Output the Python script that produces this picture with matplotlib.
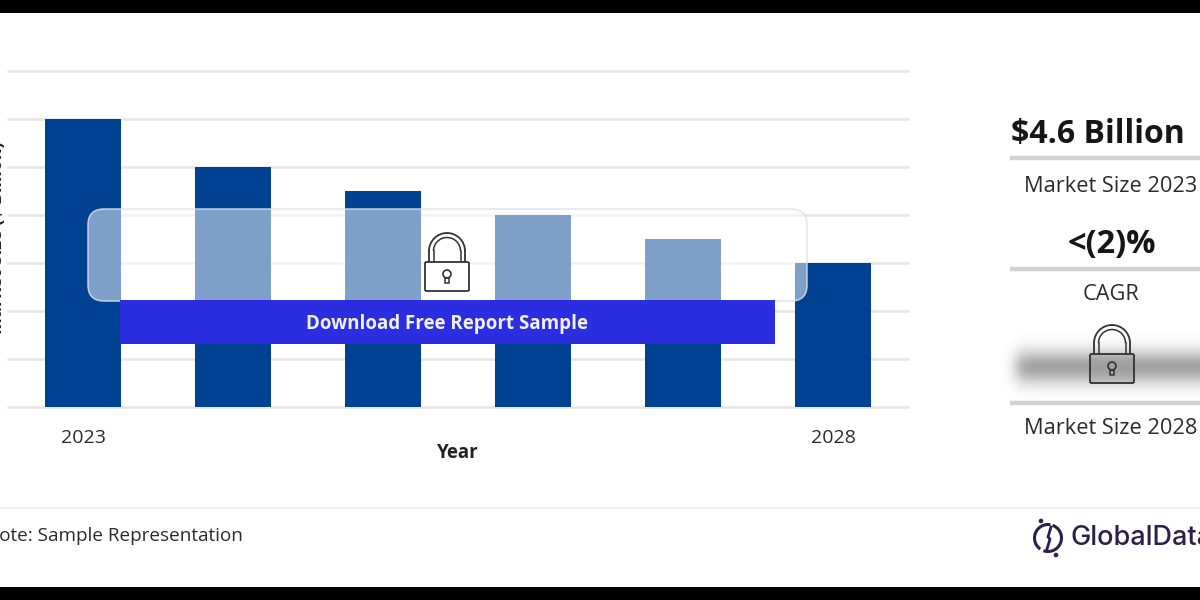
import numpy as np
import matplotlib
matplotlib.use('Agg')
import matplotlib.pyplot as plt
from matplotlib.patches import Rectangle, FancyBboxPatch, Arc, Circle

plt.rcParams['font.family'] = ['Open Sans', 'DejaVu Sans']

# Chart data
years = ['2023', '', '', '', '', '2028']
market_size = [6, 5, 4.5, 4, 3.5, 3]
y_ticks = [0, 1, 2, 3, 4, 5, 6, 7]

bar_color = '#004291'
grid_color = '#e6e6e6'
text_color = '#2b2b2b'

fig = plt.figure(figsize=(12, 6), dpi=100, facecolor='white')

# Main chart, axes run from pixel 8 to 908 and from pixel 71 to 407
ax = fig.add_axes([8 / 1200, (600 - 407) / 600, 900 / 1200, 336 / 600], zorder=1)
x = np.arange(len(years))
ax.bar(x, market_size, width=0.507, color=bar_color, zorder=3)
ax.set_xlim(-0.5, 5.5)
ax.set_ylim(0, 7)
ax.set_yticks(y_ticks)
ax.set_xticks(x)
ax.set_xticklabels(years, fontsize=14, color=text_color)
ax.tick_params(axis='both', length=0, labelleft=False, pad=15.5)
ax.grid(axis='y', color=grid_color, linewidth=1.8, zorder=0, clip_on=False)
ax.set_axisbelow(True)
for side in ax.spines.values():
    side.set_visible(False)

# Overlay in pixel coordinates for everything around the chart
ov = fig.add_axes([0, 0, 1, 1], zorder=2)
ov.patch.set_alpha(0)
ov.axis('off')

# Blurred value behind the second lock
xx = np.linspace(995, 1200, 205)
yy = np.linspace(330, 405, 75)
fade_x = 0.5 * (1 + np.tanh((xx - 1016) / 8))
fade_y = np.exp(-((yy - 367) / 17) ** 2)
blur = np.zeros((len(yy), len(xx), 4))
blur[..., :3] = 0.38
blur[..., 3] = 0.58 * np.outer(fade_y, fade_x)
ov.imshow(blur, extent=(995, 1200, 405, 330), aspect='auto', zorder=1)

ov.set_xlim(0, 1200)
ov.set_ylim(600, 0)

# Black bands at top and bottom
ov.add_patch(Rectangle((0, 0), 1200, 13, color='black', lw=0))
ov.add_patch(Rectangle((0, 587), 1200, 13, color='black', lw=0))

# Axis titles, the y title is cut by the left edge
ov.text(-3, 238, 'Market Size ($ Billion)', rotation=90, ha='center', va='center',
        fontsize=13, fontweight='bold', color='#222222', clip_on=True)
ov.text(458, 453, 'Year', ha='center', va='center', fontsize=13.5, fontweight='bold', color='#222222')

# Frosted box and download banner
ov.add_patch(FancyBboxPatch((104, 225), 687, 60, boxstyle='round,pad=16,rounding_size=16',
                            facecolor=(1, 1, 1, 0.5), edgecolor=(0.86, 0.88, 0.91, 0.85), lw=1.1, zorder=2))
ov.add_patch(Rectangle((120, 300), 655, 44, color='#2b2de0', lw=0, zorder=3))
ov.text(447, 324, 'Download Free Report Sample', ha='center', va='center',
        fontsize=13.5, fontweight='bold', color='#f2f2ff', zorder=4)


def draw_lock(cx, top, face, edge='#333333'):
    # padlock icon, 44 px wide and 60 px high
    for w, lw in [(36, 1.3), (27, 1.1)]:
        ov.add_patch(Arc((cx, top + w / 2 + (36 - w) / 2), w, w, theta1=180, theta2=360,
                         color=edge, lw=lw, zorder=5))
        ov.plot([cx - w / 2, cx - w / 2], [top + 18, top + 29], color=edge, lw=lw, zorder=5)
        ov.plot([cx + w / 2, cx + w / 2], [top + 18, top + 29], color=edge, lw=lw, zorder=5)
    ov.add_patch(FancyBboxPatch((cx - 22, top + 29), 44, 29, boxstyle='round,pad=0,rounding_size=1.5',
                                facecolor=face, edgecolor=edge, lw=1.3, zorder=5))
    ov.add_patch(Circle((cx, top + 41), 4, facecolor='none', edgecolor=edge, lw=1.2, zorder=6))
    ov.add_patch(Rectangle((cx - 1.8, top + 45), 3.6, 5, facecolor='none', edgecolor=edge, lw=1.1, zorder=6))


draw_lock(447, 233, 'white')
draw_lock(1112, 325, (0.6, 0.6, 0.6, 0.4))

# Right panel
for y in [158, 269, 403]:
    ov.plot([1010, 1200], [y, y], color='#d2d2d2', lw=3.2, solid_capstyle='butt')
ov.text(1098, 134, '$4.6 Billion', ha='center', va='center', fontsize=23, fontweight='bold', color='#161616')
ov.text(1112, 245, '<(2)%', ha='center', va='center', fontsize=23.5, fontweight='bold', color='#161616')
ov.text(1111, 186, 'Market Size 2023', ha='center', va='center', fontsize=15.7, color=text_color)
ov.text(1111, 294, 'CAGR', ha='center', va='center', fontsize=15.7, color=text_color)
ov.text(1111, 428, 'Market Size 2028', ha='center', va='center', fontsize=15.7, color=text_color)

# Footer
ov.plot([0, 1200], [508, 508], color='#eaeaea', lw=1.2)
ov.text(243, 536, 'Note: Sample Representation', ha='right', va='center', fontsize=13.6, color=text_color)

# Logo
logo_color = '#2a2049'
ov.add_patch(Arc((1048, 538), 27, 27, theta1=-70, theta2=110, color=logo_color, lw=2.2))
ov.add_patch(Arc((1048, 538), 27, 27, theta1=125, theta2=280, color=logo_color, lw=2.2))
ov.plot([1051, 1048, 1050, 1047], [527, 537, 539, 549], color=logo_color, lw=2)
ov.add_patch(Circle((1041, 521), 1.6, color=logo_color))
ov.add_patch(Circle((1056, 555), 1.6, color=logo_color))
ov.text(1071, 538, 'GlobalData', ha='left', va='center', fontsize=19.5, fontweight='medium',
        color=logo_color, family=['Inter', 'DejaVu Sans'])

fig.savefig('out.png', dpi=100)
